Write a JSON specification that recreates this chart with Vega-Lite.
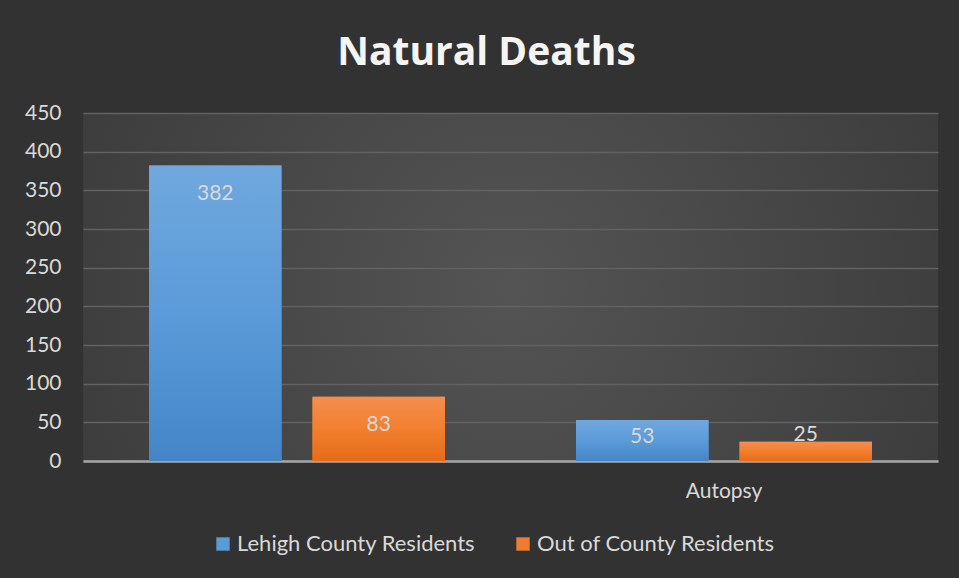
{
  "$schema": "https://vega.github.io/schema/vega-lite/v6.json",
  "width": 855,
  "height": 348,
  "autosize": {"type": "none"},
  "padding": {"left": 83, "top": 113, "right": 21, "bottom": 117},
  "background": "#323232",
  "config": {
    "font": "Lato",
    "view": {
      "stroke": null,
      "fill": {
        "gradient": "radial",
        "x1": 0.5, "y1": 0.5, "r1": 0,
        "x2": 0.5, "y2": 0.5, "r2": 0.72,
        "stops": [
          {"offset": 0, "color": "#545454"},
          {"offset": 1, "color": "#353535"}
        ]
      }
    }
  },
  "title": {
    "text": "Natural Deaths",
    "fontSize": 39,
    "fontWeight": "bold",
    "font": "Open Sans",
    "color": "#f5f5f5",
    "anchor": "middle",
    "dx": -24,
    "offset": 29
  },
  "data": {
    "values": [
      {"category": "", "series": "Lehigh County Residents", "value": 382},
      {"category": "", "series": "Out of County Residents", "value": 83},
      {"category": "Autopsy", "series": "Lehigh County Residents", "value": 53},
      {"category": "Autopsy", "series": "Out of County Residents", "value": 25}
    ]
  },
  "encoding": {
    "x": {
      "field": "category",
      "type": "nominal",
      "sort": null,
      "scale": {"paddingInner": 0.307, "paddingOuter": 0.1546},
      "axis": {
        "title": null,
        "labelAngle": 0,
        "labelFontSize": 21,
        "labelColor": "#d9d9d9",
        "labelPadding": 19,
        "ticks": false,
        "domainColor": "#a6a6a6",
        "domainWidth": 2.5
      }
    },
    "xOffset": {
      "field": "series",
      "type": "nominal",
      "scale": {"paddingInner": 0.19, "paddingOuter": 0}
    },
    "y": {
      "field": "value",
      "type": "quantitative",
      "scale": {"domain": [0, 450], "nice": false},
      "axis": {
        "title": null,
        "values": [0, 50, 100, 150, 200, 250, 300, 350, 400, 450],
        "domain": false,
        "ticks": false,
        "labelFontSize": 21,
        "labelColor": "#d9d9d9",
        "labelPadding": 22,
        "gridColor": "#626262",
        "gridWidth": 1.5
      }
    }
  },
  "layer": [
    {
      "mark": {"type": "bar"},
      "encoding": {
        "color": {
          "field": "series",
          "type": "nominal",
          "scale": {"range": ["#5b9bd5", "#ed7d31"]},
          "legend": {
            "title": null,
            "orient": "none",
            "direction": "horizontal",
            "legendX": 129,
            "legendY": 420,
            "symbolType": "square",
            "symbolSize": 180,
            "symbolStrokeWidth": 0,
            "symbolOpacity": 1,
            "labelFontSize": 22,
            "labelLimit": 0,
            "labelColor": "#d9d9d9",
            "labelOffset": 3,
            "columnPadding": 36
          }
        }
      }
    },
    {
      "transform": [{"filter": "datum.series === 'Lehigh County Residents'"}],
      "mark": {
        "type": "bar",
        "color": {
          "gradient": "linear",
          "x1": 0, "y1": 0, "x2": 0, "y2": 1,
          "stops": [
            {"offset": 0, "color": "#70a8de"},
            {"offset": 0.5, "color": "#5b9bd9"},
            {"offset": 1, "color": "#4386c8"}
          ]
        }
      }
    },
    {
      "transform": [{"filter": "datum.series === 'Out of County Residents'"}],
      "mark": {
        "type": "bar",
        "color": {
          "gradient": "linear",
          "x1": 0, "y1": 0, "x2": 0, "y2": 1,
          "stops": [
            {"offset": 0, "color": "#f48e50"},
            {"offset": 0.5, "color": "#f27f2e"},
            {"offset": 1, "color": "#e56b19"}
          ]
        }
      }
    },
    {
      "mark": {
        "type": "text",
        "fontSize": 21,
        "color": "#d9d9d9",
        "baseline": "middle",
        "dy": {"expr": "datum.value > 60 ? 28 : (datum.value > 40 ? 17 : -7)"}
      },
      "encoding": {
        "text": {"field": "value", "type": "quantitative"}
      }
    }
  ]
}
